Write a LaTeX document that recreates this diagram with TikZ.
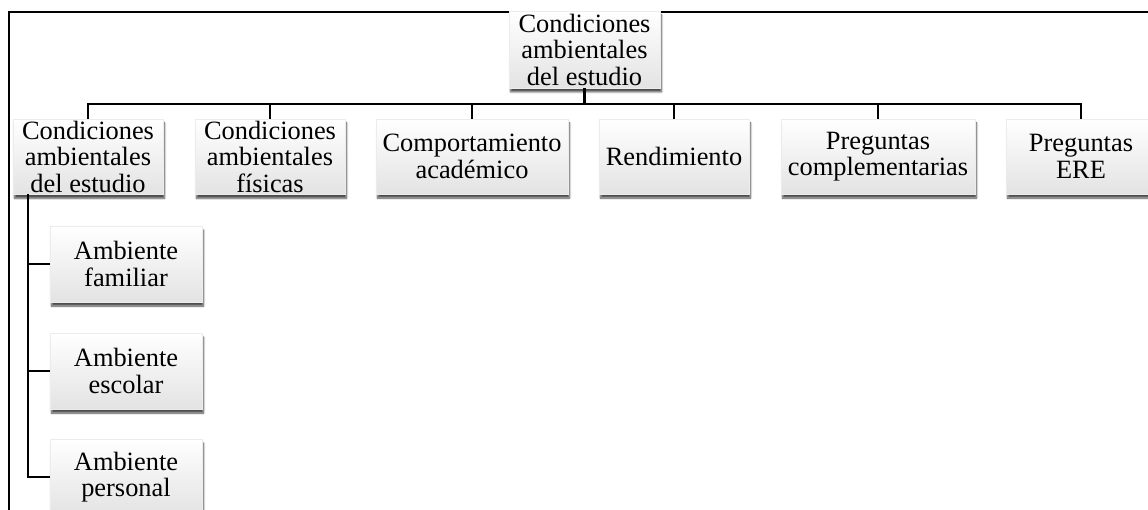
\documentclass[tikz,border=0pt]{standalone}
\usepackage{fontspec}
\setmainfont{Liberation Serif}
\usetikzlibrary{shadows.blur}
\tikzset{
  box/.style={draw=gray!15, line width=0.3pt, top color=white, bottom color=gray!22,
    align=center, inner sep=2pt, minimum height=76pt,
    font=\fontsize{26.4}{26.5}\selectfont,
    blur shadow={shadow xshift=1.5pt, shadow yshift=-4pt, shadow blur steps=6, shadow opacity=70}},
  conn/.style={line width=2.4pt, black},
  frame/.style={line width=1.8pt, black}
}
\begin{document}
\begin{tikzpicture}[x=1pt,y=-1pt]
\useasboundingbox (0,0) rectangle (1148,510);
\draw[frame] (9,512) -- (9,12) -- (1150,12);
\node[box, minimum width=151pt, minimum height=77pt] (top) at (584.5,49.5) {Condiciones\\ambientales\\del estudio};
\node[box, minimum width=150pt, minimum height=75pt] (b1) at (88,156.5) {Condiciones\\ambientales\\del estudio};
\node[box, minimum width=150pt, minimum height=75pt] (b2) at (270,156.5) {Condiciones\\ambientales\\físicas};
\node[box, minimum width=192pt, minimum height=75pt] (b3) at (472,156.5) {Comportamiento\\académico};
\node[box, minimum width=150pt, minimum height=75pt] (b4) at (674,156.5) {Rendimiento};
\node[box, minimum width=194pt, minimum height=75pt] (b5) at (878,156.5) {Preguntas\\complementarias};
\node[box, minimum width=150pt, minimum height=75pt] (b6) at (1081,156.5) {Preguntas\\ERE};
\node[box, minimum width=152pt] (c1) at (126,264) {Ambiente\\familiar};
\node[box, minimum width=152pt] (c2) at (126,371) {Ambiente\\escolar};
\node[box, minimum width=152pt] (c3) at (126,477) {Ambiente\\personal};
\coordinate (bus) at (0,104);
\coordinate (stem) at (28,0);
\foreach \n in {b1,b2,b3,b4,b5,b6}
  \draw[conn] (top.south) -- (top.south |- bus) -| (\n.north);
\foreach \n in {c1,c2,c3}
  \draw[conn] (b1.south -| stem) |- (\n.west);
\end{tikzpicture}
\end{document}
